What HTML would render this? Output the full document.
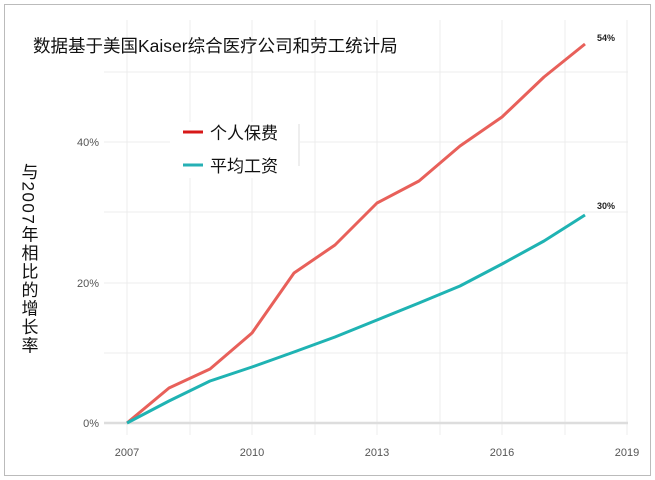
<!DOCTYPE html>
<html><head><meta charset="utf-8"><style>
body{margin:0;background:#fff;}
svg{display:block;font-family:"Liberation Sans","Noto Sans CJK SC",sans-serif;}
</style></head><body>
<svg width="655" height="480" viewBox="0 0 655 480">
<rect x="4.5" y="4.5" width="646" height="471" fill="#fff" stroke="#bbb"/>
<g stroke="#ececec" stroke-width="1">
<line x1="127" y1="20" x2="127" y2="435"/><line x1="190" y1="20" x2="190" y2="435"/>
<line x1="252" y1="20" x2="252" y2="435"/><line x1="315" y1="20" x2="315" y2="435"/>
<line x1="377" y1="20" x2="377" y2="435"/><line x1="440" y1="20" x2="440" y2="435"/>
<line x1="502" y1="20" x2="502" y2="435"/><line x1="565" y1="20" x2="565" y2="435"/>
<line x1="627" y1="20" x2="627" y2="435"/>
<line x1="104" y1="72" x2="628" y2="72"/><line x1="104" y1="142" x2="628" y2="142"/>
<line x1="104" y1="212" x2="628" y2="212"/><line x1="104" y1="283" x2="628" y2="283"/>
<line x1="104" y1="353" x2="628" y2="353"/>
</g>
<line x1="104" y1="423" x2="628" y2="423" stroke="#ddd" stroke-width="2.5"/>
<g font-size="11" fill="#555" text-anchor="end">
<text x="99" y="146">40%</text><text x="99" y="287">20%</text><text x="99" y="427">0%</text>
</g>
<g font-size="11" fill="#555" text-anchor="middle">
<text x="127" y="456">2007</text><text x="252" y="456">2010</text><text x="377" y="456">2013</text>
<text x="502" y="456">2016</text><text x="627" y="456">2019</text>
</g>
<polyline fill="none" stroke="#e8605a" stroke-width="3" stroke-linejoin="round" points="127,423 169,388 210,369 252,333 294,273 335,245 377,203 419,181 460,146 502,117 544,77 585,44"/>
<polyline fill="none" stroke="#1fb3b3" stroke-width="3" stroke-linejoin="round" points="127,423 169,401 210,381 252,367 294,352 335,337 377,320 419,303 460,286 502,264 544,241 585,215"/>
<text x="597" y="41" font-size="9" font-weight="bold" fill="#222">54%</text>
<text x="597" y="209" font-size="9" font-weight="bold" fill="#222">30%</text>
<text x="33" y="52" font-size="17.5" fill="#111">数据基于美国Kaiser综合医疗公司和劳工统计局</text>
<rect x="170" y="122" width="130" height="56" fill="#fff"/>
<line x1="299" y1="124" x2="299" y2="166" stroke="#ddd"/>
<line x1="183" y1="132" x2="203" y2="132" stroke="#d71818" stroke-width="3"/>
<line x1="183" y1="165" x2="203" y2="165" stroke="#26b0b5" stroke-width="3"/>
<text x="210" y="139" font-size="17" fill="#111">个人保费</text>
<text x="210" y="172" font-size="17" fill="#111">平均工资</text>
<text transform="translate(28,163)" font-size="17" fill="#111" style="writing-mode:vertical-rl;letter-spacing:1.5px">与2007年相比的增长率</text>
</svg>
</body></html>
